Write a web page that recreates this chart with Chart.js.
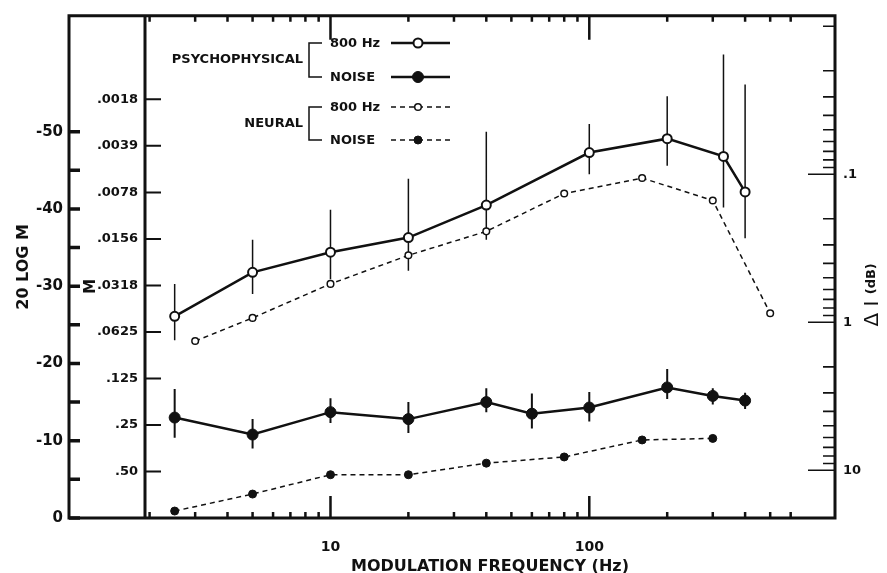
<!DOCTYPE html>
<html>
<head>
<meta charset="utf-8">
<script src="https://cdn.jsdelivr.net/npm/chart.js@4.4.0/dist/chart.umd.min.js"></script>
<style>
  html, body { margin: 0; padding: 0; background: #fff; }
  #wrap { width: 887px; height: 573px; }
</style>
</head>
<body>
<div id="wrap"><canvas id="chart_modulation"></canvas></div>
<script>
// psychophysical, 800 Hz carrier (open circles, solid line), with error bars
var psych800Freq = [2.5, 5, 10, 20, 40, 100, 200, 330, 400];
var psych800Db   = [-26.1, -31.8, -34.4, -36.3, -40.5, -47.3, -49.1, -46.8, -42.2];
var psych800Lo   = [-23.0, -29.0, -30.9, -32.0, -36.0, -44.5, -45.6, -40.2, -36.2];
var psych800Hi   = [-30.3, -36.0, -39.9, -43.9, -50.0, -51.0, -54.6, -60.0, -56.1];

// psychophysical, noise carrier (filled circles, solid line)
var psychNoiseFreq = [2.5, 5, 10, 20, 40, 60, 100, 200, 300, 400];
var psychNoiseDb   = [-13.0, -10.8, -13.7, -12.8, -15.0, -13.5, -14.3, -16.9, -15.8, -15.2];
var psychNoiseLo   = [-10.4, -9.0, -12.3, -11.0, -13.7, -11.6, -12.5, -15.4, -14.7, -14.1];
var psychNoiseHi   = [-16.7, -12.8, -15.5, -15.0, -16.8, -16.1, -16.3, -19.3, -16.8, -16.2];

// neural, 800 Hz (small open circles, dashed)
var neural800Freq = [3, 5, 10, 20, 40, 80, 160, 300, 500];
var neural800Db   = [-22.9, -25.9, -30.3, -34.0, -37.1, -42.0, -44.0, -41.1, -26.5];

// neural, noise (small filled circles, dashed)
var neuralNoiseFreq = [2.5, 5, 10, 20, 40, 80, 160, 300];
var neuralNoiseDb   = [-0.9, -3.1, -5.6, -5.6, -7.1, -7.9, -10.1, -10.3];

// axis ticks
var dbTicks = [-50, -45, -40, -35, -30, -25, -20, -15, -10, -5, 0];
var mTickValues = [0.5, 0.25, 0.125, 0.0625, 0.03125, 0.015625, 0.0078125, 0.00390625, 0.001953];
var mTickLabels = ['.50', '.25', '.125', '.0625', '.0318', '.0156', '.0078', '.0039', '.0018'];
var freqTicks = [2, 3, 4, 5, 6, 7, 8, 9, 10, 20, 30, 40, 50, 60, 70, 80, 90, 100, 200, 300, 400, 500, 600];
var freqLabels = { 10: '10', 100: '100' };
var deltaITicks = [0.01, 0.02, 0.03, 0.04, 0.05, 0.06, 0.07, 0.08, 0.09,
                   0.1, 0.2, 0.3, 0.4, 0.5, 0.6, 0.7, 0.8, 0.9,
                   1, 2, 3, 4, 5, 6, 7, 8, 9, 10];
var deltaILabels = { 0.1: '.1', 1: '1', 10: '10' };

var legendGroups = ['PSYCHOPHYSICAL', 'NEURAL'];
var legendItems = ['800 Hz', 'NOISE'];

var INK = '#111';
var FONT = 'DejaVu Sans';
Chart.defaults.color = INK;
Chart.defaults.font.family = FONT;

function pts(xs, ys) {
    return xs.map(function (x, i) { return { x: x, y: ys[i] }; });
}

function drawMarker(ctx, x, y, r, filled, lw) {
    ctx.beginPath();
    ctx.arc(x, y, r, 0, Math.PI * 2);
    ctx.fillStyle = filled ? INK : '#fff';
    ctx.fill();
    ctx.lineWidth = lw;
    ctx.strokeStyle = INK;
    ctx.stroke();
}

var figurePlugin = {
    id: 'figurePlugin',
    beforeDraw: function (chart) {
        var ctx = chart.ctx;
        ctx.save();
        ctx.fillStyle = '#fff';
        ctx.fillRect(0, 0, chart.width, chart.height);
        ctx.restore();
    },
    beforeDatasetsDraw: function (chart) {
        // vertical error bars
        var ctx = chart.ctx, xs = chart.scales.x, ys = chart.scales.y;
        ctx.save();
        ctx.strokeStyle = INK;
        chart.data.datasets.forEach(function (ds) {
            if (!ds.errLow) return;
            ctx.lineWidth = ds.errWidth;
            ctx.beginPath();
            ds.data.forEach(function (p, i) {
                var x = xs.getPixelForValue(p.x);
                ctx.moveTo(x, ys.getPixelForValue(ds.errLow[i]));
                ctx.lineTo(x, ys.getPixelForValue(ds.errHigh[i]));
            });
            ctx.stroke();
        });
        ctx.restore();
    },
    afterDraw: function (chart) {
        var ctx = chart.ctx, a = chart.chartArea;
        var xs = chart.scales.x, ys = chart.scales.y, ym = chart.scales.yM, yr = chart.scales.yR;
        ctx.save();
        ctx.strokeStyle = INK;
        ctx.lineCap = 'butt';

        // frame: outer box plus the inner M axis line
        ctx.lineWidth = 3;
        ctx.beginPath();
        ctx.moveTo(ys.right, a.top);
        ctx.lineTo(a.right, a.top);
        ctx.lineTo(a.right, a.bottom);
        ctx.lineTo(ys.right, a.bottom);
        ctx.closePath();
        ctx.moveTo(a.left, a.top);
        ctx.lineTo(a.left, a.bottom);
        ctx.stroke();

        // 20 LOG M ticks, pointing inward
        ctx.lineWidth = 3.5;
        ctx.beginPath();
        ys.ticks.forEach(function (t) {
            var y = ys.getPixelForValue(t.value);
            ctx.moveTo(ys.right, y);
            ctx.lineTo(ys.right + 11, y);
        });
        ctx.stroke();

        // M ticks
        ctx.lineWidth = 2;
        ctx.beginPath();
        ym.ticks.forEach(function (t) {
            var y = ym.getPixelForValue(t.value);
            ctx.moveTo(a.left, y);
            ctx.lineTo(a.left + 16, y);
        });
        ctx.stroke();

        // frequency ticks, bottom and top
        ctx.lineWidth = 2.5;
        ctx.beginPath();
        xs.ticks.forEach(function (t) {
            var x = xs.getPixelForValue(t.value);
            var major = freqLabels[t.value] !== undefined;
            ctx.moveTo(x, a.bottom);
            ctx.lineTo(x, a.bottom - (major ? 22 : 6));
            ctx.moveTo(x, a.top);
            ctx.lineTo(x, a.top + (major ? 24 : 6));
        });
        ctx.stroke();

        // delta I ticks on the right
        ctx.lineWidth = 1.6;
        ctx.beginPath();
        yr.ticks.forEach(function (t) {
            var y = yr.getPixelForValue(t.value);
            var major = deltaILabels[t.value] !== undefined;
            ctx.moveTo(a.right, y);
            ctx.lineTo(a.right - (major ? 27 : 12), y);
        });
        ctx.stroke();

        // "M" beside the inner scale
        ctx.fillStyle = INK;
        ctx.save();
        ctx.translate(ys.right + 22, ys.getPixelForValue(-30));
        ctx.rotate(-Math.PI / 2);
        ctx.font = 'bold 15px ' + FONT;
        ctx.textAlign = 'center';
        ctx.textBaseline = 'middle';
        ctx.fillText('M', 0, 0);
        ctx.restore();

        // right axis title, reading upward
        ctx.save();
        ctx.fillStyle = INK;
        ctx.translate(873, (a.top + a.bottom) / 2 + 28);
        ctx.rotate(-Math.PI / 2);
        ctx.textBaseline = 'middle';
        ctx.textAlign = 'left';
        ctx.font = '20px ' + FONT;
        var w1 = ctx.measureText('\u0394 I ').width;
        ctx.font = 'bold 13px ' + FONT;
        var w2 = ctx.measureText('(dB)').width;
        var x0 = -(w1 + w2) / 2;
        ctx.font = '20px ' + FONT;
        ctx.fillText('\u0394 I ', x0, 0);
        ctx.font = 'bold 13px ' + FONT;
        ctx.fillText('(dB)', x0 + w1, -1);
        ctx.restore();

        // legend with brackets
        var ds = chart.data.datasets;
        var rows = [[43, 77], [107, 140]];
        ctx.font = 'bold 13px ' + FONT;
        ctx.textBaseline = 'middle';
        rows.forEach(function (r, g) {
            ctx.fillStyle = INK;
            ctx.textAlign = 'right';
            ctx.fillText(legendGroups[g], 303, (r[0] + r[1]) / 2);
            ctx.lineWidth = 1.5;
            ctx.setLineDash([]);
            ctx.beginPath();
            ctx.moveTo(322, r[0]);
            ctx.lineTo(309, r[0]);
            ctx.lineTo(309, r[1]);
            ctx.lineTo(322, r[1]);
            ctx.stroke();
            r.forEach(function (y, k) {
                var d = ds[g * 2 + k];
                ctx.fillStyle = INK;
                ctx.textAlign = 'left';
                ctx.fillText(legendItems[k], 330, y + 1);
                ctx.lineWidth = d.borderWidth;
                ctx.setLineDash(d.borderDash || []);
                ctx.beginPath();
                ctx.moveTo(391, y);
                ctx.lineTo(450, y);
                ctx.stroke();
                ctx.setLineDash([]);
                drawMarker(ctx, 418, y, d.pointRadius, d.pointBackgroundColor === INK, d.pointBorderWidth);
            });
        });
        ctx.restore();
    }
};

var chart_modulation = new Chart(document.getElementById('chart_modulation'), {
    type: 'line',
    data: {
        datasets: [
            {
                label: 'Psychophysical 800 Hz',
                data: pts(psych800Freq, psych800Db),
                errLow: psych800Lo, errHigh: psych800Hi, errWidth: 1.5,
                borderColor: INK, borderWidth: 2.5,
                pointRadius: 4.5, pointBorderWidth: 2,
                pointBackgroundColor: '#fff', pointBorderColor: INK
            },
            {
                label: 'Psychophysical noise',
                data: pts(psychNoiseFreq, psychNoiseDb),
                errLow: psychNoiseLo, errHigh: psychNoiseHi, errWidth: 2,
                borderColor: INK, borderWidth: 2.5,
                pointRadius: 5.5, pointBorderWidth: 1,
                pointBackgroundColor: INK, pointBorderColor: INK
            },
            {
                label: 'Neural 800 Hz',
                data: pts(neural800Freq, neural800Db),
                borderColor: INK, borderWidth: 1.5, borderDash: [5, 4],
                pointRadius: 3.3, pointBorderWidth: 1.5,
                pointBackgroundColor: '#fff', pointBorderColor: INK
            },
            {
                label: 'Neural noise',
                data: pts(neuralNoiseFreq, neuralNoiseDb),
                borderColor: INK, borderWidth: 1.5, borderDash: [5, 4],
                pointRadius: 4, pointBorderWidth: 1,
                pointBackgroundColor: INK, pointBorderColor: INK
            }
        ]
    },
    options: {
        animation: false,
        responsive: true,
        maintainAspectRatio: false,
        layout: { padding: { top: 11, left: 0, right: 0, bottom: 0 } },
        plugins: {
            legend: { display: false },
            tooltip: { enabled: false }
        },
        scales: {
            x: {
                type: 'logarithmic',
                position: 'bottom',
                min: 1.92,
                max: 890,
                grid: { display: false, drawTicks: false },
                border: { display: false },
                afterBuildTicks: function (scale) {
                    scale.ticks = freqTicks.map(function (v) { return { value: v }; });
                },
                afterFit: function (scale) { scale.height = 55; },
                ticks: {
                    autoSkip: false,
                    maxRotation: 0,
                    padding: 21,
                    font: { size: 14, weight: 'bold' },
                    callback: function (value) {
                        return freqLabels[value] || '';
                    }
                },
                title: {
                    display: true,
                    text: 'MODULATION FREQUENCY (Hz)',
                    font: { size: 16, weight: 'bold' },
                    padding: { top: 0, bottom: -3 }
                }
            },
            y: {
                type: 'linear',
                position: 'left',
                weight: 1,
                min: -65,
                max: 0,
                reverse: true,
                grid: { display: false, drawTicks: false },
                border: { display: false },
                afterBuildTicks: function (scale) {
                    scale.ticks = dbTicks.map(function (v) { return { value: v }; });
                },
                afterFit: function (scale) { scale.width = 69; },
                ticks: {
                    autoSkip: false,
                    padding: 6,
                    font: { size: 15, weight: 'bold' },
                    callback: function (value) {
                        return value % 10 === 0 ? String(value) : '';
                    }
                },
                title: {
                    display: true,
                    text: '20 LOG M',
                    font: { size: 16, weight: 'bold' },
                    padding: { top: 14, bottom: 0 }
                }
            },
            yM: {
                type: 'linear',
                position: 'left',
                weight: 0,
                min: -65,
                max: 0,
                reverse: true,
                grid: { display: false, drawTicks: false },
                border: { display: false },
                afterBuildTicks: function (scale) {
                    scale.ticks = mTickValues.map(function (v) { return { value: 20 * Math.log10(v) }; });
                },
                afterFit: function (scale) { scale.width = 76; },
                ticks: {
                    autoSkip: false,
                    padding: 7,
                    font: { size: 13, weight: 'bold' },
                    callback: function (value, index) {
                        return mTickLabels[index];
                    }
                }
            },
            yR: {
                type: 'logarithmic',
                position: 'right',
                min: 0.0085,
                max: 21,
                reverse: true,
                grid: { display: false, drawTicks: false },
                border: { display: false },
                afterBuildTicks: function (scale) {
                    scale.ticks = deltaITicks.map(function (v) { return { value: v }; });
                },
                afterFit: function (scale) { scale.width = 52; },
                ticks: {
                    autoSkip: false,
                    padding: 8,
                    font: { size: 13, weight: 'bold' },
                    callback: function (value) {
                        return deltaILabels[value] || '';
                    }
                }
            }
        }
    },
    plugins: [figurePlugin]
});
</script>
</body>
</html>
